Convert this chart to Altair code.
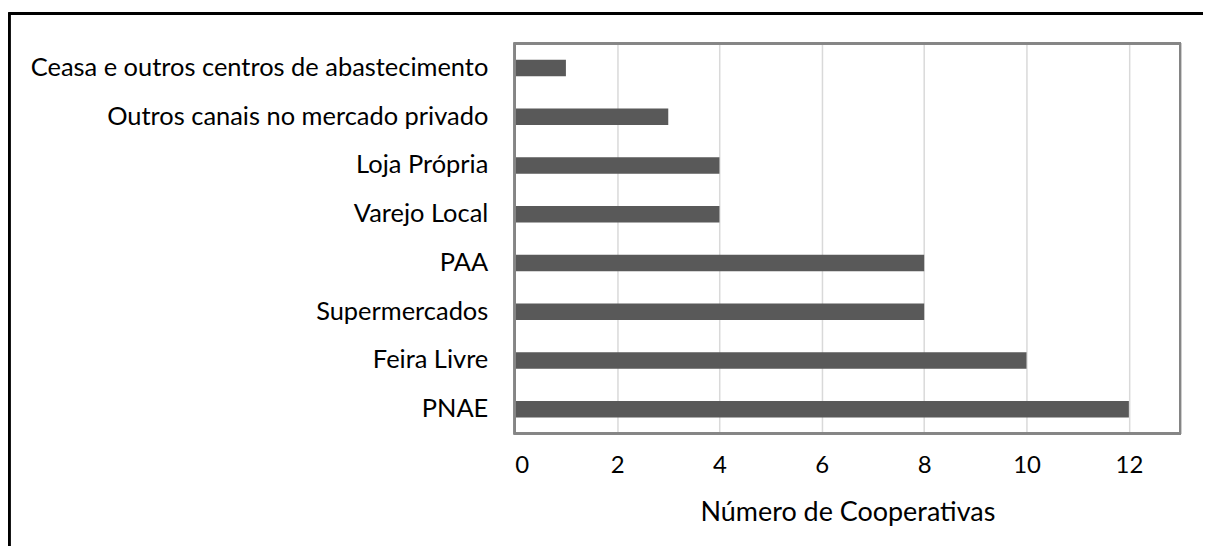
import altair as alt
import pandas as pd

categories = [
    "Ceasa e outros centros de abastecimento",
    "Outros canais no mercado privado",
    "Loja Própria",
    "Varejo Local",
    "PAA",
    "Supermercados",
    "Feira Livre",
    "PNAE",
]
values = [1, 3, 4, 4, 8, 8, 10, 12]
x_ticks = [0, 2, 4, 6, 8, 10, 12]

df = pd.DataFrame({"canal": categories, "n": values})

FONT = "Lato"
W, H = 667, 391

bars = alt.Chart(df).mark_bar(color="#595959").encode(
    x=alt.X(
        "n:Q",
        scale=alt.Scale(domain=[0, 13], nice=False),
        axis=alt.Axis(
            values=x_ticks,
            title="Número de Cooperativas",
            grid=True,
            gridColor="#d9d9d9",
            gridWidth=1.5,
            domain=False,
            ticks=False,
            labelFont=FONT,
            labelFontSize=24,
            labelColor="#000000",
            labelPadding=20,
            titleFont=FONT,
            titleFontSize=27,
            titleFontWeight="normal",
            titleColor="#000000",
            titlePadding=22,
        ),
    ),
    y=alt.Y(
        "canal:N",
        sort=categories,
        scale=alt.Scale(paddingInner=0.66, paddingOuter=0.33),
        axis=alt.Axis(
            title=None,
            domain=False,
            ticks=False,
            labelFont=FONT,
            labelFontSize=25.5,
            labelColor="#000000",
            labelPadding=27,
            labelLimit=700,
        ),
    ),
)

# plot-area border (decoration)
border = alt.Chart(df).mark_rect(
    fill=None, filled=False, stroke="#858585", strokeWidth=2
).encode(x=alt.value(0), x2=alt.value(W), y=alt.value(0), y2=alt.value(H))

# outer frame of the figure (decoration)
frame_top = alt.Chart(df).mark_rule(color="#000000", strokeWidth=2.5).encode(
    x=alt.value(-507), x2=alt.value(720), y=alt.value(-30)
)
frame_left = alt.Chart(df).mark_rule(color="#000000", strokeWidth=2.5).encode(
    x=alt.value(-507), y=alt.value(-31), y2=alt.value(540)
)

chart = (
    alt.layer(bars, border, frame_top, frame_left)
    .properties(
        width=W,
        height=H,
        autosize=alt.AutoSizeParams(type="none"),
        padding={"left": 508, "top": 35, "right": 23, "bottom": 112},
    )
    .configure_view(stroke=None)
    .configure(background="#ffffff")
)

chart.save("out.html", embed_options={"renderer": "svg", "actions": False})
